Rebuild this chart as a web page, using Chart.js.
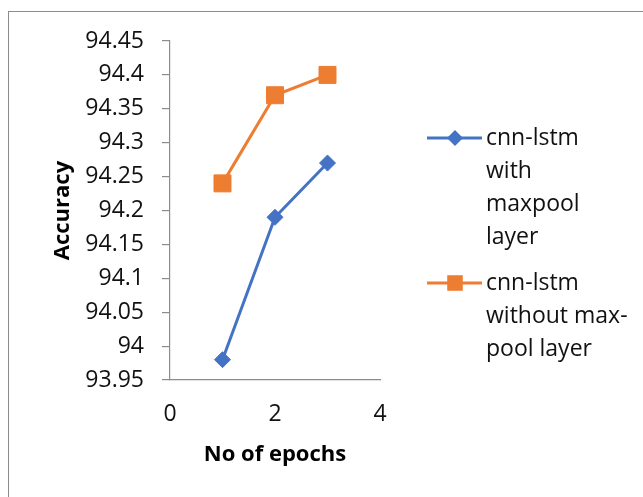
<!DOCTYPE html>
<html><head><meta charset="utf-8">
<script src="https://cdn.jsdelivr.net/npm/chart.js@4"></script>
<style>
html,body{margin:0;padding:0;background:#fff;}
#wrap{position:relative;width:643px;height:497px;overflow:hidden;}
#frame{position:absolute;left:8px;top:11px;width:700px;height:600px;border:1.5px solid #8c8c8c;box-sizing:border-box;}
canvas{position:absolute;left:0;top:0;}
</style></head><body>
<div id="wrap"><div id="frame"></div><canvas id="c" width="643" height="497"></canvas></div>
<script>
const epochs = [1, 2, 3];
const withMaxpool = [93.98, 94.19, 94.27];
const withoutMaxpool = [94.24, 94.37, 94.40];
const xTicks = [0, 2, 4];
const yTicks = [93.95, 94.00, 94.05, 94.10, 94.15, 94.20, 94.25, 94.30, 94.35, 94.40, 94.45];
const seriesLabels = [["cnn-lstm", "with", "maxpool", "layer"], ["cnn-lstm", "without max-", "pool layer"]];
const xTitle = "No of epochs";
const yTitle = "Accuracy";

const FONT = "'Open Sans', 'Noto Sans', sans-serif";
const BLUE = "#4472C4", ORANGE = "#ED7D31";

const toPts = (ys) => epochs.map((x, i) => ({x: x, y: ys[i]}));
const fmt = (v) => String(parseFloat(Number(v).toFixed(2)));

const sideLegend = {
  id: 'sideLegend',
  afterDraw(chart) {
    const ctx = chart.ctx;
    const starts = [138, 283];
    const spacing = 33;
    chart.data.datasets.forEach((ds, i) => {
      const y0 = starts[i];
      ctx.save();
      ctx.strokeStyle = ds.borderColor;
      ctx.lineWidth = 3;
      ctx.beginPath(); ctx.moveTo(427, y0); ctx.lineTo(482, y0); ctx.stroke();
      ctx.fillStyle = ds.pointBackgroundColor;
      ctx.strokeStyle = ds.pointBorderColor;
      Chart.helpers.drawPoint(ctx, {pointStyle: ds.pointStyle, radius: ds.legendRadius, borderWidth: 0, rotation: 0}, 455, y0);
      ctx.fillStyle = "#111";
      ctx.font = "23px " + FONT;
      ctx.textAlign = "left";
      ctx.textBaseline = "middle";
      seriesLabels[i].forEach((line, j) => ctx.fillText(line, 486, y0 + j * spacing));
      ctx.restore();
    });
  }
};

new Chart(document.getElementById('c'), {
  type: 'line',
  data: {
    datasets: [
      {label: seriesLabels[0].join(' '), data: toPts(withMaxpool), borderColor: BLUE, backgroundColor: BLUE,
       pointBackgroundColor: BLUE, pointBorderColor: BLUE, pointStyle: 'rectRot', pointRadius: 8, pointBorderWidth: 1,
       legendRadius: 8, borderWidth: 3, tension: 0},
      {label: seriesLabels[1].join(' '), data: toPts(withoutMaxpool), borderColor: ORANGE, backgroundColor: ORANGE,
       pointBackgroundColor: ORANGE, pointBorderColor: ORANGE, pointStyle: 'rect', pointRadius: 12, pointBorderWidth: 1,
       legendRadius: 11, borderWidth: 3, tension: 0}
    ]
  },
  options: {
    responsive: false, animation: false, devicePixelRatio: 1,
    layout: {padding: {left: 0, top: 41, right: 263, bottom: 0}},
    plugins: {legend: {display: false}, tooltip: {enabled: false}},
    scales: {
      x: {
        type: 'linear', min: 0, max: 4,
        afterBuildTicks: (s) => { s.ticks = xTicks.map(v => ({value: v})); },
        afterFit: (s) => { s.height = 117; },
        grid: {drawOnChartArea: false, drawTicks: false},
        border: {display: true, color: '#8c8c8c', width: 1.2},
        ticks: {color: '#111', padding: 21, font: {family: FONT, size: 23}, maxRotation: 0, callback: (v) => fmt(v)},
        title: {display: true, text: xTitle, color: '#000', font: {family: FONT, size: 22, weight: 'bold'}, padding: {top: 0, bottom: 29}}
      },
      y: {
        type: 'linear', min: 93.95, max: 94.45,
        afterBuildTicks: (s) => { s.ticks = yTicks.map(v => ({value: v})); },
        afterFit: (s) => { s.width = 170; },
        grid: {drawOnChartArea: false, drawTicks: true, tickLength: 8, color: '#8c8c8c', lineWidth: 1.2},
        border: {display: true, color: '#8c8c8c', width: 1.2},
        ticks: {color: '#111', padding: 18, font: {family: FONT, size: 23}, callback: (v) => fmt(v)},
        title: {display: true, text: yTitle, color: '#000', font: {family: FONT, size: 22, weight: 'bold'}, padding: {top: 50, bottom: 0}}
      }
    }
  },
  plugins: [sideLegend]
});
</script>
</body></html>
